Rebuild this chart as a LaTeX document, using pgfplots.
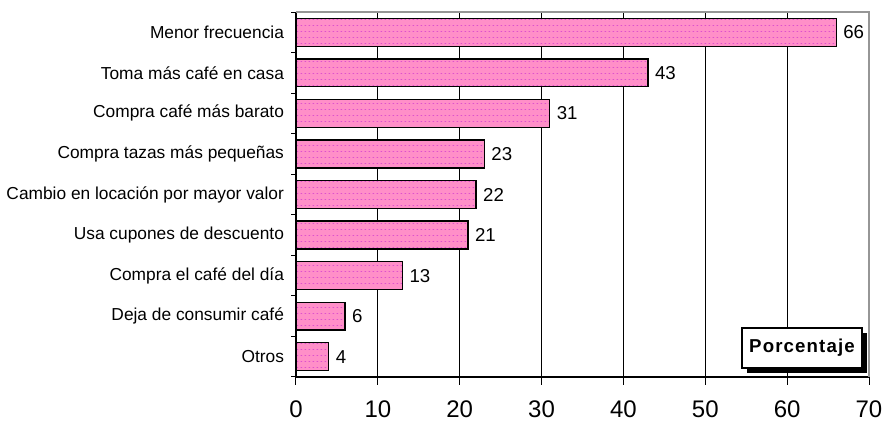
\documentclass[border=0pt]{standalone}
\usepackage{pgfplots}
\pgfplotsset{compat=1.18}
\usepackage{fontspec}
\setmainfont{Liberation Sans}
\newfontfamily\legfont[LetterSpace=6]{Liberation Sans}
\usetikzlibrary{patterns,shadows}
\definecolor{barpink}{RGB}{255,143,200}
\definecolor{dotmag}{RGB}{222,80,205}
\definecolor{bordergray}{RGB}{150,150,150}
\pgfdeclarepatternformonly{sparsedots}{\pgfqpoint{0pt}{0pt}}{\pgfqpoint{3pt}{4.5pt}}{\pgfqpoint{3pt}{4.5pt}}{%
  \pgfpathrectangle{\pgfqpoint{0.6pt}{1.9pt}}{\pgfqpoint{1.4pt}{0.7pt}}\pgfusepath{fill}}
\begin{document}
\begin{tikzpicture}
\path[use as bounding box] (-222pt,-35.25pt) rectangle (441pt,282.75pt);
\begin{axis}[
  at={(0pt,0pt)}, anchor=south west,
  width=429.75pt, height=273.75pt, scale only axis,
  xbar,
  xmin=0, xmax=70, ymin=-0.5, ymax=8.5,
  bar width=0.69,
  axis x line*=bottom, axis y line*=left,
  axis line style={black, line width=1pt},
  xtick={0,10,...,70},
  xmajorgrids, grid style={black, line width=0.75pt},
  ytick={0,...,8},
  yticklabels={Otros, Deja de consumir café, Compra el café del día, Usa cupones de descuento, Cambio en locación por mayor valor, Compra tazas más pequeñas, Compra café más barato, Toma más café en casa, Menor frecuencia},
  minor ytick={-0.5,0.5,...,8.5},
  tick align=outside,
  major tick length=6pt, minor tick length=3.5pt,
  tick style={black, line width=0.75pt},
  major y tick style={draw=none},
  /pgf/number format/assume math mode=true,
  xticklabel style={font=\fontsize{18}{20}\selectfont, yshift=-8pt},
  yticklabel style={font=\fontsize{13}{15}\selectfont, xshift=0.5pt},
  nodes near coords,
  every node near coord/.append style={font=\fontsize{14}{16}\selectfont, black, xshift=1.5pt},
  clip=false,
]
\addplot[fill=barpink, draw=black, line width=1pt,
  postaction={pattern=sparsedots, pattern color=dotmag}]
  coordinates {(66,8) (43,7) (31,6) (23,5) (22,4) (21,3) (13,2) (6,1) (4,0)};
\draw[bordergray, line width=0.9pt] (rel axis cs:0,1) -- (rel axis cs:1,1) -- (rel axis cs:1,0);
\node[draw=black, line width=0.9pt, fill=white, font=\fontsize{14}{16}\selectfont\legfont\bfseries,
  minimum width=90pt, minimum height=30pt, inner sep=0pt,
  drop shadow={shadow xshift=3.75pt, shadow yshift=-3.75pt, fill=black, opacity=1}]
  at (rel axis cs:0.883,0.0795) {Porcentaje};
\end{axis}
\end{tikzpicture}
\end{document}
